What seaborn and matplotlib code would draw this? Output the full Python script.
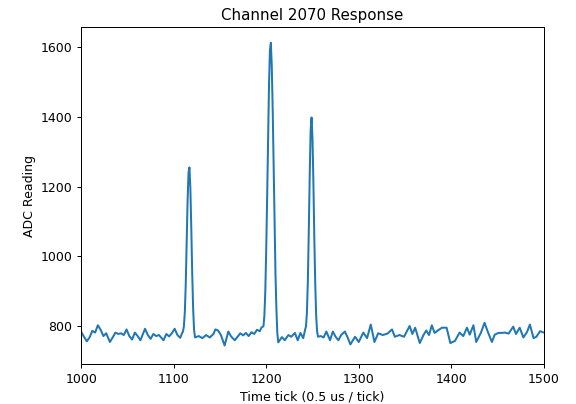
import pandas as pd
import matplotlib
matplotlib.use("Agg")
import matplotlib.pyplot as plt
import seaborn as sns

# ADC samples (tick, reading)
ticks = [
    1000, 1003, 1006, 1009, 1012, 1015, 1018, 1021, 1024, 1027,
    1031, 1034, 1037, 1040, 1043, 1046, 1049, 1052, 1055, 1058,
    1061, 1064, 1067, 1069, 1072, 1075, 1078, 1081, 1084, 1087,
    1089, 1092, 1095, 1098, 1101, 1104, 1107, 1109,
    1110, 1111, 1112, 1113, 1114, 1115, 1116, 1117, 1118, 1119,
    1120, 1121, 1122, 1123,
    1127, 1131, 1135, 1139, 1143, 1145, 1148, 1151, 1155, 1159,
    1162, 1166, 1169, 1172, 1175, 1178, 1181, 1184, 1187, 1190,
    1193, 1195,
    1197, 1198, 1199, 1200, 1201, 1202, 1203, 1204, 1205, 1206,
    1207, 1208, 1209, 1210, 1211, 1212, 1213,
    1217, 1220, 1224, 1227, 1231, 1234, 1237, 1240,
    1242, 1243, 1244, 1245, 1246, 1247, 1248, 1249, 1250, 1251,
    1252, 1253, 1254, 1255, 1256,
    1259, 1262, 1265, 1269, 1272, 1275, 1278, 1281, 1285, 1288,
    1291, 1296, 1300, 1305, 1309, 1313, 1317, 1321, 1326, 1331,
    1336, 1339, 1344, 1349, 1355, 1358, 1361, 1366, 1370, 1373,
    1376, 1379, 1382, 1386, 1390, 1395, 1399, 1404, 1409, 1413,
    1417, 1420, 1424, 1427, 1432, 1436, 1440, 1444, 1447, 1451,
    1454, 1458, 1462, 1467, 1470, 1474, 1478, 1482, 1485, 1489,
    1492, 1496, 1500,
]

adc = [
    784, 770, 757, 768, 787, 782, 803, 790, 772, 780,
    755, 768, 782, 778, 780, 775, 791, 772, 762, 782,
    772, 760, 780, 793, 775, 764, 778, 772, 775, 766,
    760, 778, 771, 780, 793, 775, 767, 780,
    785, 800, 840, 920, 1040, 1160, 1240, 1255, 1195, 1080,
    950, 850, 790, 768,
    772, 766, 775, 768, 778, 791, 788, 775, 745, 785,
    771, 760, 770, 780, 774, 781, 772, 783, 778, 790,
    786, 797,
    800, 830, 900, 1020, 1170, 1340, 1490, 1590, 1612, 1545,
    1420, 1260, 1090, 950, 850, 780, 754,
    769, 760, 775, 770, 781, 760, 781, 766,
    790, 800, 840, 930, 1070, 1230, 1360, 1398, 1340, 1210,
    1050, 920, 830, 785, 770,
    772, 768, 785, 760, 785, 770, 760, 775, 785, 768,
    748, 770, 755, 782, 766, 805, 755, 780, 775, 779,
    791, 770, 775, 770, 801, 778, 796, 752, 775, 788,
    775, 803, 781, 789, 796, 796, 752, 758, 782, 772,
    796, 776, 803, 755, 781, 810, 781, 755, 776, 781,
    781, 782, 779, 799, 778, 796, 768, 784, 805, 766,
    770, 786, 782,
]

df = pd.DataFrame({"tick": ticks, "adc": adc})

fig, ax = plt.subplots(figsize=(6.4, 4.489), dpi=90)
fig.subplots_adjust(left=0.141, right=0.944, top=0.933, bottom=0.099)

sns.lineplot(data=df, x="tick", y="adc", color="#1f77b4", linewidth=1.6, ax=ax)

ax.set_xlim(1000, 1500)
ax.set_ylim(692, 1657)
ax.set_title("Channel 2070 Response")
ax.set_xlabel("Time tick (0.5 us / tick)")
ax.set_ylabel("ADC Reading")

fig.savefig("out.png", dpi=90)
